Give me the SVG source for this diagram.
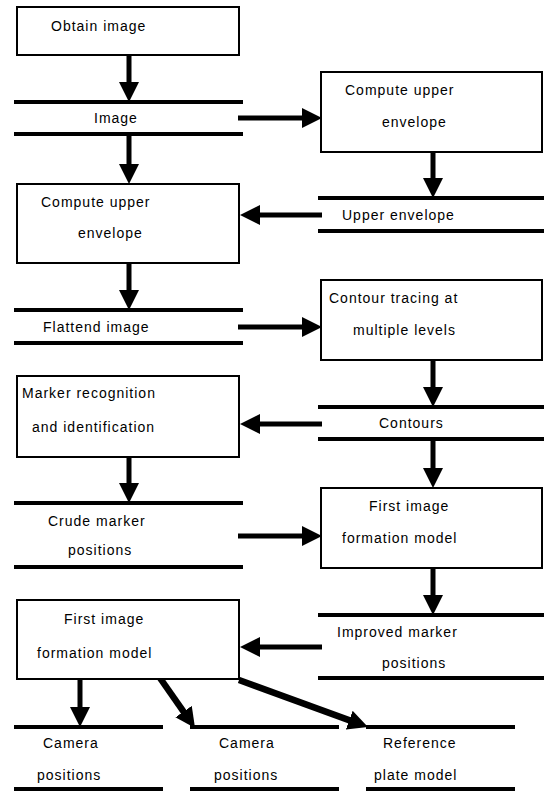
<svg xmlns="http://www.w3.org/2000/svg" width="544" height="791" viewBox="0 0 544 791">
<style>
.box{fill:#fff;stroke:#000;stroke-width:2}
.st{stroke:#000;stroke-width:4}
.ar{stroke:#000;stroke-width:5;fill:none;marker-end:url(#ah)}
.dg{stroke-width:6.5}
text{font-family:"Liberation Sans",Arial,sans-serif;font-size:14px;letter-spacing:1px;fill:#000}
</style>
<defs>
<marker id="ah" markerUnits="userSpaceOnUse" markerWidth="20" markerHeight="20" refX="10" refY="10" orient="auto" viewBox="0 0 20 20">
<path d="M0,0 L20,10 L0,20 z" fill="#000"/>
</marker>
</defs>
<rect width="544" height="791" fill="#fff"/>
<g id="connectors">
<line class="ar" x1="129" y1="55" x2="129" y2="92"/>
<line class="ar" x1="238" y1="118" x2="312" y2="118"/>
<line class="ar" x1="433" y1="152" x2="433" y2="188"/>
<line class="ar" x1="322" y1="215" x2="250" y2="215"/>
<line class="ar" x1="129" y1="134" x2="129" y2="174"/>
<line class="ar" x1="129" y1="263" x2="129" y2="300"/>
<line class="ar" x1="238" y1="327" x2="312" y2="327"/>
<line class="ar" x1="433" y1="360" x2="433" y2="397"/>
<line class="ar" x1="322" y1="424" x2="250" y2="424"/>
<line class="ar" x1="129" y1="457" x2="129" y2="493"/>
<line class="ar" x1="433" y1="439" x2="433" y2="478"/>
<line class="ar" x1="238" y1="536" x2="312" y2="536"/>
<line class="ar" x1="433" y1="568" x2="433" y2="605"/>
<line class="ar" x1="322" y1="647" x2="250" y2="647"/>
<line class="ar" x1="80" y1="680" x2="80" y2="717"/>
<line class="ar dg" x1="160" y1="678" x2="189.3" y2="719.8"/>
<line class="ar dg" x1="239" y1="680" x2="358.6" y2="723.6"/>
</g>
<g id="obtain">
<rect class="box" x="17" y="7" width="222" height="48"/>
<text x="51" y="31">Obtain image</text>
</g>
<g id="image">
<line class="st" x1="14" y1="102" x2="243" y2="102"/>
<line class="st" x1="14" y1="134" x2="243" y2="134"/>
<text x="94" y="123">Image</text>
</g>
<g id="compute1">
<rect class="box" x="321" y="72" width="221" height="80"/>
<text x="345" y="95">Compute upper</text>
<text x="382" y="127">envelope</text>
</g>
<g id="upper">
<line class="st" x1="318" y1="198" x2="544" y2="198"/>
<line class="st" x1="318" y1="231" x2="544" y2="231"/>
<text x="342" y="220">Upper envelope</text>
</g>
<g id="compute2">
<rect class="box" x="17" y="184" width="222" height="79"/>
<text x="41" y="207">Compute upper</text>
<text x="78" y="238">envelope</text>
</g>
<g id="flattend">
<line class="st" x1="14" y1="310" x2="243" y2="310"/>
<line class="st" x1="14" y1="343" x2="243" y2="343"/>
<text x="43" y="332">Flattend image</text>
</g>
<g id="contourtracing">
<rect class="box" x="321" y="280" width="221" height="80"/>
<text x="329" y="303">Contour tracing at</text>
<text x="353" y="335">multiple levels</text>
</g>
<g id="contours">
<line class="st" x1="318" y1="407" x2="544" y2="407"/>
<line class="st" x1="318" y1="439" x2="544" y2="439"/>
<text x="379" y="428">Contours</text>
</g>
<g id="marker">
<rect class="box" x="17" y="376" width="222" height="81"/>
<text x="22" y="398">Marker recognition</text>
<text x="32" y="432">and identification</text>
</g>
<g id="crude">
<line class="st" x1="14" y1="503" x2="243" y2="503"/>
<line class="st" x1="14" y1="567" x2="243" y2="567"/>
<text x="48" y="526">Crude marker</text>
<text x="68" y="555">positions</text>
</g>
<g id="model1">
<rect class="box" x="321" y="488" width="221" height="80"/>
<text x="369" y="511">First image</text>
<text x="342" y="543">formation model</text>
</g>
<g id="improved">
<line class="st" x1="318" y1="615" x2="544" y2="615"/>
<line class="st" x1="318" y1="678" x2="544" y2="678"/>
<text x="337" y="637">Improved marker</text>
<text x="382" y="668">positions</text>
</g>
<g id="model2">
<rect class="box" x="17" y="600" width="222" height="79"/>
<text x="64" y="624">First image</text>
<text x="37" y="658">formation model</text>
</g>
<g id="camera1">
<line class="st" x1="14" y1="727" x2="163" y2="727"/>
<line class="st" x1="14" y1="789" x2="163" y2="789"/>
<text x="43" y="748">Camera</text>
<text x="37" y="780">positions</text>
</g>
<g id="camera2">
<line class="st" x1="190" y1="727" x2="339" y2="727"/>
<line class="st" x1="190" y1="789" x2="339" y2="789"/>
<text x="219" y="748">Camera</text>
<text x="214" y="780">positions</text>
</g>
<g id="reference">
<line class="st" x1="366" y1="727" x2="515" y2="727"/>
<line class="st" x1="366" y1="789" x2="515" y2="789"/>
<text x="383" y="748">Reference</text>
<text x="374" y="780">plate model</text>
</g>
</svg>
